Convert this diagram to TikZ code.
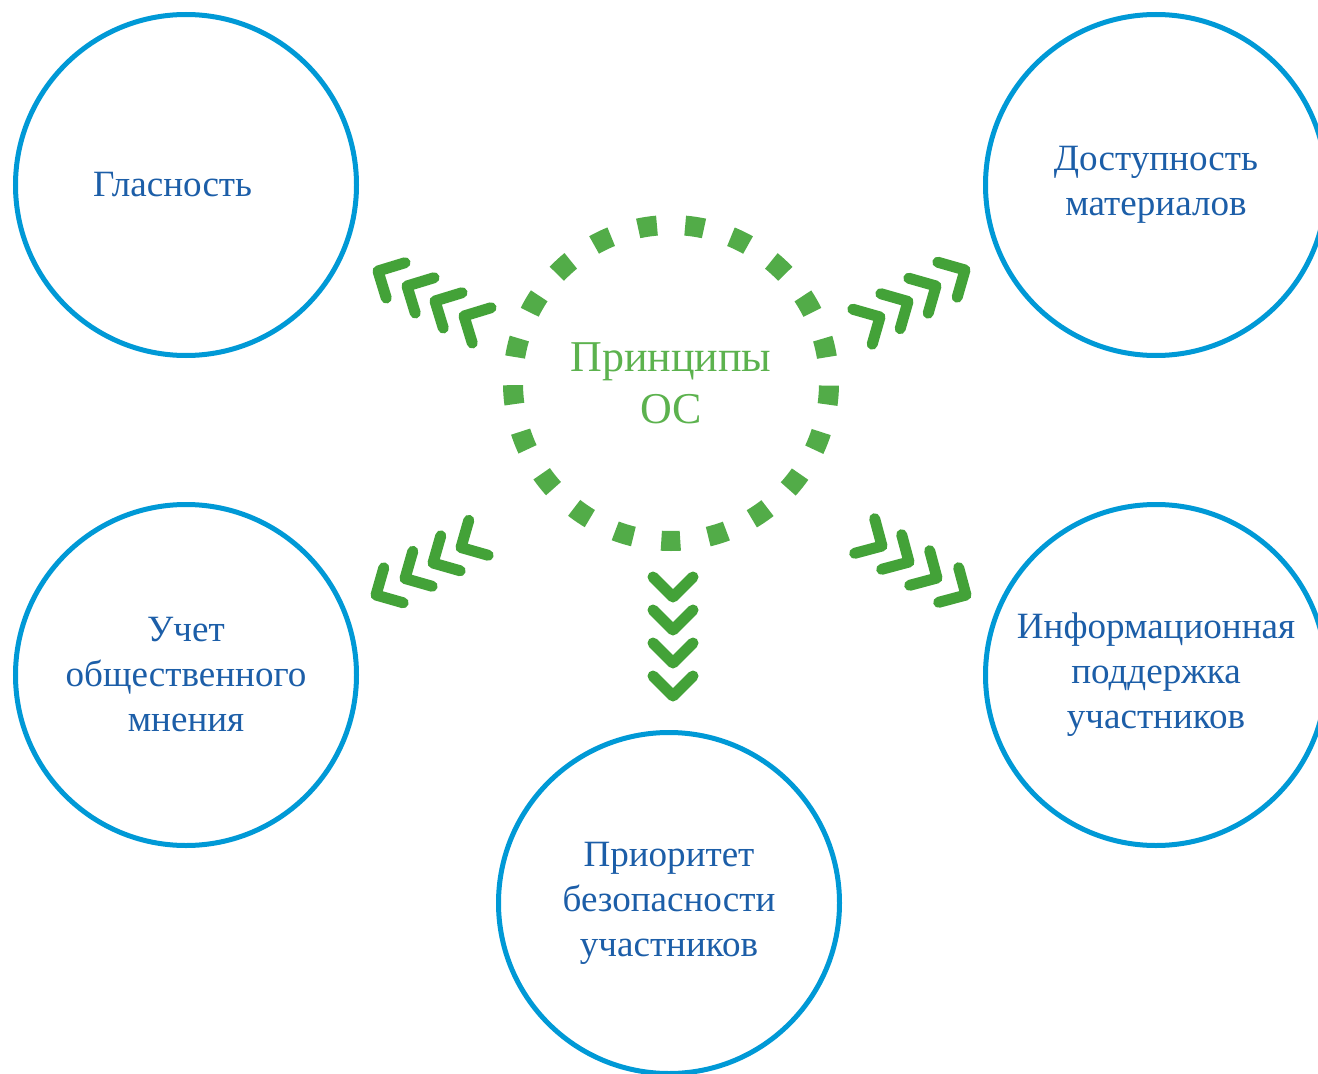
\documentclass[tikz,border=0pt]{standalone}
\usepackage{fontspec}
\setmainfont{Liberation Serif}
\usepackage{xcolor}
\usepackage{tikz}
\usetikzlibrary{shapes.geometric}

\definecolor{ringblue}{RGB}{0,153,214}
\definecolor{textblue}{RGB}{28,94,168}
\definecolor{chevgreen}{RGB}{67,162,56}
\definecolor{dotgreen}{RGB}{82,172,72}
\definecolor{titlegreen}{RGB}{92,178,78}

\tikzset{
principle/.style = { circle, draw = ringblue, line width = 3.75pt, fill = white, minimum size = 255.75pt, inner sep = 0pt, text = textblue, align = center, font = \fontsize{27.8}{33.75}\selectfont },
hub/.style = { circle, draw = dotgreen, line width = 15pt, dash pattern = on 14.25pt off 21.2pt, dash phase = 16pt, minimum size = 237pt, inner sep = 0pt, text = titlegreen, align = center, font = \fontsize{33}{39}\selectfont },
chevron line/.style = { draw = chevgreen, line width = 8.25pt, line cap = round, line join = round },
}
\tikzset{
pics/chevron/.style = {
        code = {
        \draw[chevron line, rotate = #1] (-20, 20) -- (0, 0) -- (-20, -20);
        }
    }
}

\begin{document}
\begin{tikzpicture}[x = 0.75pt, y = 0.75pt]
    \useasboundingbox (0, 0) rectangle (1318, -1074);
    \node[hub] (os) at (671, -383) {Принципы\\ОС};
    \node[principle] (glasnost) at (186, -185) {Гласность\hspace*{20pt}};
    \node[principle] (dostup) at (1156, -185) {Доступность\\материалов};
    \node[principle] (uchet) at (186, -675) {Учет\\общественного\\мнения};
    \node[principle] (info) at (1156, -675) {Информационная\\поддержка\\участников};
    \node[principle] (prioritet) at (669, -903) {Приоритет\\безопасности\\участников};
    \draw (378, -271) pic{chevron = 152};
    \draw (407, -286) pic{chevron = 152};
    \draw (435, -301) pic{chevron = 152};
    \draw (464, -316) pic{chevron = 152};
    \draw (880, -317) pic{chevron = 29};
    \draw (908, -301.5) pic{chevron = 29};
    \draw (936, -286) pic{chevron = 29};
    \draw (965, -270) pic{chevron = 29};
    \draw (376, -595) pic{chevron = 209};
    \draw (405, -578.5) pic{chevron = 209};
    \draw (433, -563) pic{chevron = 209};
    \draw (461, -547.5) pic{chevron = 209};
    \draw (882, -546) pic{chevron = -30};
    \draw (909, -562) pic{chevron = -30};
    \draw (937, -578) pic{chevron = -30};
    \draw (966, -595) pic{chevron = -30};
    \draw (673, -597) pic{chevron = -90};
    \draw (673, -630) pic{chevron = -90};
    \draw (673, -663) pic{chevron = -90};
    \draw (673, -696) pic{chevron = -90};
  \end{tikzpicture}
\end{document}
